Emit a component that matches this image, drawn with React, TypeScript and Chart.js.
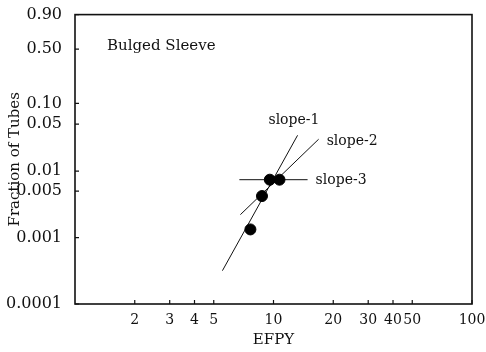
import React, { useEffect, useRef } from "react";
import { Chart, registerables } from "chart.js";

Chart.register(...registerables);

// ---- data ----
const xTickValues = [2, 3, 4, 5, 10, 20, 30, 40, 50, 100];
const yTickValues = [0.9, 0.5, 0.1, 0.05, 0.01, 0.005, 0.001, 0.0001];
const yTickLabels = ["0.90", "0.50", "0.10", "0.05", "0.01", "0.005", "0.001", "0.0001"];

const pointEFPY = [7.65, 8.75, 9.58, 10.72];
const pointFraction = [0.00133, 0.00423, 0.00745, 0.00745];

const slope1EFPY = [5.53, 13.22];
const slope1Fraction = [0.000318, 0.0343];
const slope2EFPY = [6.81, 16.88];
const slope2Fraction = [0.00222, 0.03];
const slope3EFPY = [6.73, 14.85];
const slope3Fraction = [0.00745, 0.00745];

const noteTexts = ["Bulged Sleeve", "slope-1", "slope-2", "slope-3"];
const noteEFPY = [1.45, 9.43, 18.52, 16.3];
const noteFraction = [0.539, 0.0566, 0.0281, 0.0073];

// Weibull probability transform
const w = (F: number) => Math.log(-Math.log(1 - F));

const SERIF = "'DejaVu Serif', serif";

const framePlugin = {
  id: "frameAndNotes",
  afterDraw(chart: any) {
    const { ctx, chartArea, scales } = chart;
    const xs = scales.x;
    const ys = scales.y;
    ctx.save();
    ctx.strokeStyle = "#111";
    ctx.lineWidth = 1.6;
    ctx.strokeRect(chartArea.left, chartArea.top, chartArea.right - chartArea.left, chartArea.bottom - chartArea.top);
    ctx.lineWidth = 1.2;
    ctx.beginPath();
    xs.ticks.forEach((t: any) => {
      const px = xs.getPixelForValue(t.value);
      ctx.moveTo(px, chartArea.bottom);
      ctx.lineTo(px, chartArea.bottom - 4);
    });
    ys.ticks.forEach((t: any) => {
      const py = ys.getPixelForValue(t.value);
      ctx.moveTo(chartArea.left, py);
      ctx.lineTo(chartArea.left + 4, py);
    });
    ctx.stroke();
    ctx.fillStyle = "#111";
    ctx.textAlign = "left";
    ctx.textBaseline = "middle";
    noteTexts.forEach((txt, i) => {
      ctx.font = (i === 0 ? "15px " : "14px ") + SERIF;
      ctx.fillText(txt, xs.getPixelForValue(noteEFPY[i]), ys.getPixelForValue(w(noteFraction[i])));
    });
    ctx.restore();
  },
};

export default function App() {
  const ref = useRef<HTMLCanvasElement | null>(null);
  useEffect(() => {
    if (!ref.current) return;
    const mk = (xa: number[], fa: number[]) => xa.map((x, i) => ({ x, y: w(fa[i]) }));
    const lineDs = (xa: number[], fa: number[]) => ({
      data: mk(xa, fa),
      showLine: true,
      borderColor: "#111",
      borderWidth: 1,
      pointRadius: 0,
      fill: false,
    });
    const chart = new Chart(ref.current, {
      type: "scatter",
      data: {
        datasets: [
          {
            data: mk(pointEFPY, pointFraction),
            backgroundColor: "#000",
            borderColor: "#000",
            pointRadius: 5.5,
            showLine: false,
          },
          lineDs(slope1EFPY, slope1Fraction),
          lineDs(slope2EFPY, slope2Fraction),
          lineDs(slope3EFPY, slope3Fraction),
        ],
      },
      plugins: [framePlugin],
      options: {
        animation: false,
        responsive: true,
        maintainAspectRatio: false,
        layout: { autoPadding: false, padding: { left: 0, top: 9, right: 14, bottom: 0 } },
        plugins: { legend: { display: false }, tooltip: { enabled: false } },
        scales: {
          x: {
            type: "logarithmic",
            min: 1,
            max: 100,
            afterBuildTicks: (s: any) => {
              s.ticks = xTickValues.map((v) => ({ value: v }));
            },
            afterFit: (s: any) => {
              s.height = 48;
            },
            grid: { display: false },
            border: { display: false },
            ticks: {
              autoSkip: false,
              maxRotation: 0,
              padding: 0,
              color: "#111",
              font: { family: SERIF, size: 14 },
              callback: (v: any) => String(v),
            },
            title: {
              display: true,
              text: "EFPY",
              color: "#111",
              font: { family: SERIF, size: 15 },
              padding: { top: 0, bottom: 3 },
            },
          },
          y: {
            type: "linear",
            min: w(0.0001),
            max: w(0.9),
            afterBuildTicks: (s: any) => {
              s.ticks = yTickValues.map((v) => ({ value: w(v) }));
            },
            afterFit: (s: any) => {
              s.width = 75;
            },
            grid: { display: false },
            border: { display: false },
            ticks: {
              autoSkip: false,
              padding: 5,
              color: "#111",
              font: { family: SERIF, size: 16 },
              callback: (_v: any, i: number) => yTickLabels[i],
            },
            title: {
              display: true,
              text: "Fraction of Tubes",
              color: "#111",
              font: { family: SERIF, size: 15 },
              padding: { top: 6, bottom: 0 },
            },
          },
        },
      },
    });
    return () => chart.destroy();
  }, []);
  return (
    <div style={{ position: "fixed", left: 0, top: 0, width: 486, height: 352, background: "#fff" }}>
      <canvas ref={ref} />
    </div>
  );
}
